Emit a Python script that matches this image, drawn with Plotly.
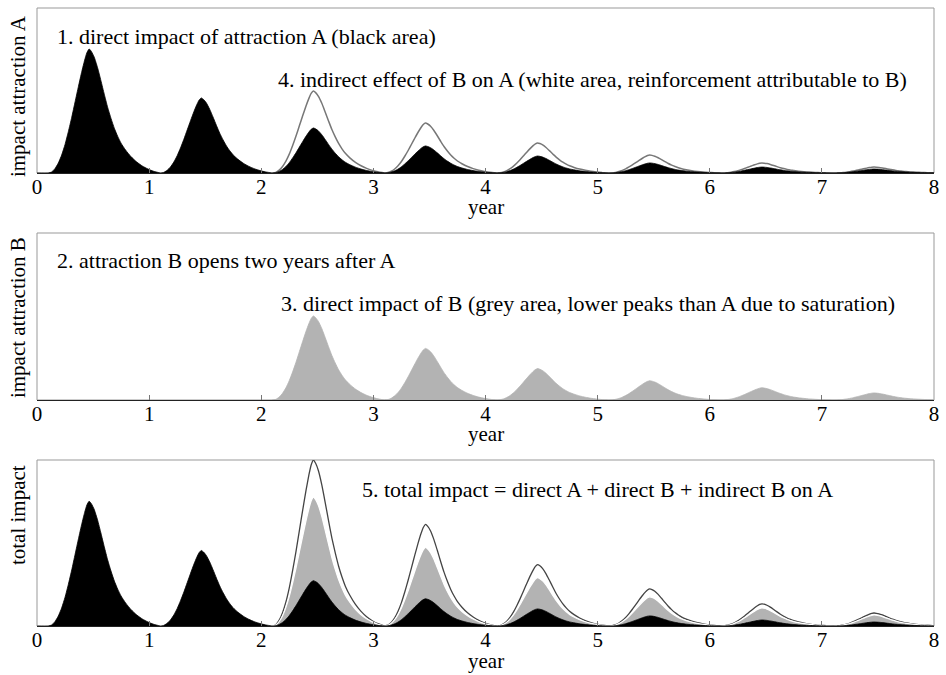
import plotly.graph_objects as go

# ---- data ----
years = [0, 1, 2, 3, 4, 5, 6, 7]
# peak impact per season (arbitrary units, A's first season = 100)
peak_A_direct = [100, 60.5, 36.3, 21.8, 13.7, 8.1, 4.8, 3.2]
peak_A_with_B = [100, 60.5, 66.1, 40.3, 24.2, 14.5, 8.1, 4.8]
peak_B_direct = [0, 0, 66.9, 41.1, 25.0, 15.3, 9.7, 5.6]
b_open_year = 2
# seasonal profile within a year (offset in years, fraction of the season peak)
season_offset = [0.10, 0.13, 0.16, 0.19, 0.22, 0.25, 0.28, 0.31, 0.34, 0.37, 0.40, 0.425,
                 0.445, 0.465, 0.485, 0.51, 0.54, 0.57, 0.60, 0.63, 0.66, 0.69, 0.72, 0.75,
                 0.79, 0.84, 0.89, 0.94, 0.99, 1.04, 1.10]
season_shape = [0.0, 0.008, 0.035, 0.08, 0.145, 0.23, 0.335, 0.45, 0.575, 0.70, 0.82, 0.91,
                0.97, 1.0, 0.98, 0.935, 0.85, 0.745, 0.635, 0.53, 0.44, 0.36, 0.295, 0.24,
                0.185, 0.13, 0.088, 0.056, 0.032, 0.014, 0.0]
x_ticks = [0, 1, 2, 3, 4, 5, 6, 7, 8]

FONT = "Liberation Serif, Times New Roman, serif"
FS_AX = 21
FS_NOTE = 22
W, H = 946, 675
ML, MR, MT, MB = 37, 7, 8, 49
PW, PH = W - ML - MR, H - MT - MB


def series(peaks, start_year=0):
    xs, ys = [], []
    if start_year > 0:
        xs.append(start_year + season_offset[0] - 0.001)
        ys.append(0)
    else:
        xs.append(0)
        ys.append(0)
    for k, p in zip(years, peaks):
        if k < start_year:
            continue
        for off, s in zip(season_offset, season_shape):
            xs.append(k + off)
            ys.append(p * s)
    return xs, ys


def py(pix):
    return (H - MB - pix) / PH


def px(pix):
    return (pix - ML) / PW


xa, ya = series(peak_A_direct)
xo, yo = series(peak_A_with_B, b_open_year)
xb, yb = series(peak_B_direct, b_open_year)
x_ab, y_ab = series([a + b for a, b in zip(peak_A_direct, peak_B_direct)], 0)
x_tot, y_tot = series([a + b + (w - a) for a, b, w in zip(peak_A_direct, peak_B_direct, peak_A_with_B)], b_open_year)

fig = go.Figure()
SPL = dict(shape="spline", smoothing=0.5)

# panel 1
fig.add_trace(go.Scatter(x=xo, y=yo, mode="lines", line=dict(color="#777777", width=1.5, **SPL),
                         xaxis="x", yaxis="y", hoverinfo="skip"))
fig.add_trace(go.Scatter(x=xa, y=ya, mode="lines", fill="tozeroy", fillcolor="black",
                         line=dict(color="black", width=0.8, **SPL), xaxis="x", yaxis="y", hoverinfo="skip"))
# panel 2
fig.add_trace(go.Scatter(x=xb, y=yb, mode="lines", fill="tozeroy", fillcolor="#b3b3b3",
                         line=dict(color="#b3b3b3", width=0.8, **SPL), xaxis="x2", yaxis="y2", hoverinfo="skip"))
# panel 3
fig.add_trace(go.Scatter(x=x_tot, y=y_tot, mode="lines", line=dict(color="#444444", width=1.3, **SPL),
                         xaxis="x3", yaxis="y3", hoverinfo="skip"))
fig.add_trace(go.Scatter(x=x_ab, y=y_ab, mode="lines", fill="tozeroy", fillcolor="#b3b3b3",
                         line=dict(color="white", width=1.2, **SPL), xaxis="x3", yaxis="y3", hoverinfo="skip"))
fig.add_trace(go.Scatter(x=xa, y=ya, mode="lines", fill="tozeroy", fillcolor="black",
                         line=dict(color="black", width=0.8, **SPL), xaxis="x3", yaxis="y3", hoverinfo="skip"))

domains = [[py(173), py(8)], [py(400), py(233)], [py(626), py(460)]]
yr = [0, 133]
xaxis_common = dict(range=[0, 8], tickvals=x_ticks, ticktext=[str(t) for t in x_ticks],
                    ticks="inside", ticklen=5, tickcolor="#777777", showline=True, linecolor="#222222",
                    linewidth=1, showgrid=False, zeroline=False, ticklabelstandoff=-5,
                    tickfont=dict(family=FONT, size=FS_AX, color="black"))
yaxis_common = dict(range=yr, showticklabels=False, ticks="", showgrid=False, zeroline=False, showline=False)

layout = dict(
    width=W, height=H, margin=dict(l=ML, r=MR, t=MT, b=MB),
    paper_bgcolor="white", plot_bgcolor="white", showlegend=False,
    font=dict(family=FONT, size=FS_AX, color="black"),
)
for i, d in enumerate(domains):
    sx = "" if i == 0 else str(i + 1)
    layout["xaxis" + sx] = dict(xaxis_common, anchor="y" + sx, domain=[0, 1])
    layout["yaxis" + sx] = dict(yaxis_common, anchor="x" + sx, domain=d)
fig.update_layout(**layout)

shapes = []
for i in range(3):
    sx = "" if i == 0 else str(i + 1)
    shapes.append(dict(type="rect", xref="x" + sx + " domain", yref="y" + sx + " domain",
                       x0=0, x1=1, y0=0, y1=1, line=dict(color="#999999", width=1), layer="below"))
fig.update_layout(shapes=shapes)

notes = [
    ("1. direct impact of attraction A (black area)", 55, 36),
    ("4. indirect effect of B on A (white area, reinforcement attributable to B)", 277, 80),
    ("2. attraction B opens two years after A", 55, 260),
    ("3. direct impact of B (grey area, lower peaks than A due to saturation)", 280, 303),
    ("5. total impact = direct A + direct B + indirect B on A", 362, 490),
]
for t, x, y in notes:
    fig.add_annotation(text=t, xref="paper", yref="paper", x=px(x), y=py(y), xanchor="left",
                       yanchor="middle", showarrow=False, font=dict(family=FONT, size=FS_NOTE, color="black"))

ylabels = [("impact attraction A", 96), ("impact attraction B", 318), ("total impact", 515)]
for t, y in ylabels:
    fig.add_annotation(text=t, xref="paper", yref="paper", x=px(18), y=py(y), xanchor="center",
                       yanchor="middle", textangle=-90, showarrow=False,
                       font=dict(family=FONT, size=FS_AX, color="black"))

for y in [207, 434, 661]:
    fig.add_annotation(text="year", xref="paper", yref="paper", x=0.5, y=py(y), xanchor="center",
                       yanchor="middle", showarrow=False, borderpad=0,
                       font=dict(family=FONT, size=FS_AX, color="black"))

fig.write_html("out.html")
